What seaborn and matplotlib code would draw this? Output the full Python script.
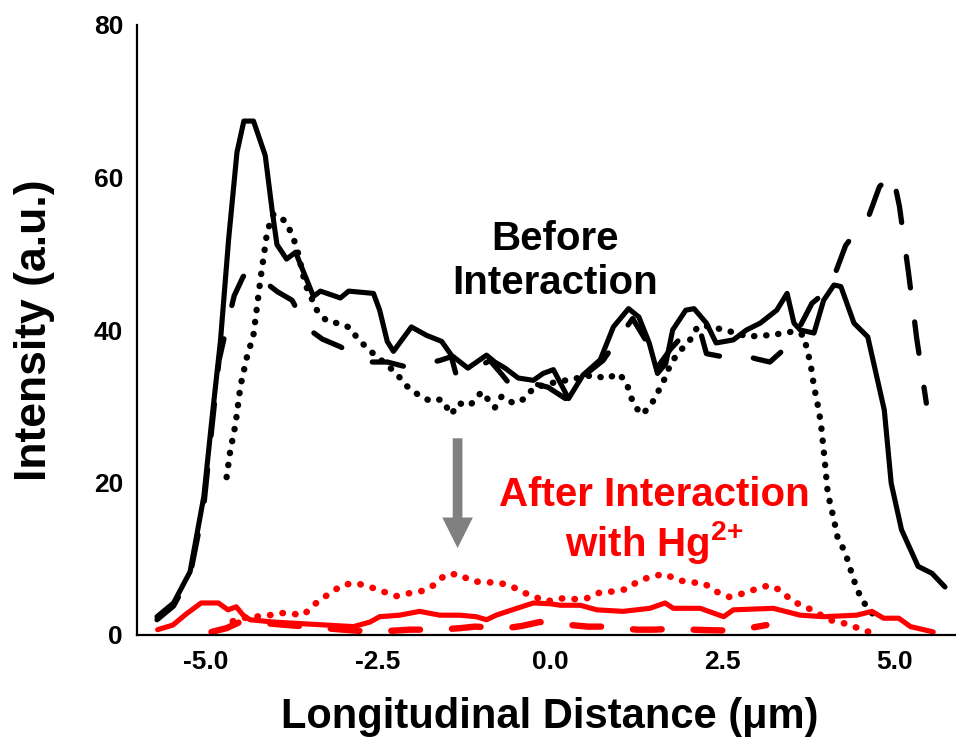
import numpy as np
import pandas as pd
import matplotlib
matplotlib.use("Agg")
import matplotlib.pyplot as plt
import seaborn as sns
from matplotlib import font_manager as fm

# ---------------- data ----------------
before_solid_x = [-5.70, -5.46, -5.22, -5.02, -4.90, -4.78, -4.66, -4.54, -4.44, -4.30, -4.13, -4.03,
                  -3.96, -3.82, -3.69, -3.43, -3.33, -3.04, -2.92, -2.56, -2.47, -2.36, -2.27, -2.01,
                  -1.79, -1.57, -1.43, -1.19, -0.92, -0.80, -0.65, -0.46, -0.24, -0.10, 0.05, 0.27,
                  0.48, 0.73, 0.92, 1.14, 1.29, 1.44, 1.56, 1.68, 1.78, 1.97, 2.09, 2.27, 2.41, 2.66,
                  2.85, 3.05, 3.29, 3.44, 3.54, 3.63, 3.83, 3.97, 4.12, 4.22, 4.41, 4.61, 4.85, 4.95,
                  5.10, 5.34, 5.54, 5.73]
before_solid_y = [2.4, 4.2, 8.3, 18.2, 28.6, 38.5, 52.0, 63.3, 67.4, 67.4, 62.9, 55.7,
                  51.2, 49.3, 50.2, 44.4, 45.1, 44.2, 45.1, 44.8, 42.6, 38.5, 37.2, 40.4,
                  39.3, 38.5, 36.7, 35.0, 36.7, 35.8, 35.0, 33.7, 33.4, 34.3, 34.8, 31.0,
                  34.1, 36.1, 40.4, 42.8, 41.7, 38.3, 34.3, 35.6, 40.0, 42.6, 42.8, 40.9, 38.3, 38.7,
                  40.0, 40.9, 42.6, 44.8, 40.9, 40.0, 39.6, 43.9, 45.9, 45.7, 40.9, 39.1, 29.5, 19.9,
                  13.8, 9.0, 8.1, 6.3]

before_dashed_x = [-5.70, -5.46, -5.22, -5.02, -4.90, -4.80, -4.70, -4.58, -4.45, -4.35, -4.18, -3.95,
                   -3.74, -3.53, -3.30, -3.04, -2.65, -2.36, -2.10, -1.88, -1.60, -1.43, -1.36, -1.15,
                   -0.87, -0.70, -0.54, -0.25, -0.03, 0.26, 0.45, 0.77, 1.00, 1.20, 1.40, 1.55, 1.75,
                   2.00, 2.17, 2.27, 2.50, 2.80, 3.00, 3.19, 3.40, 3.60, 3.80, 4.00, 4.12, 4.29, 4.45,
                   4.61, 4.78, 4.97, 5.07, 5.20, 5.32, 5.46]
before_dashed_y = [2.0, 3.8, 7.8, 17.0, 27.5, 36.0, 40.0, 44.5, 47.0, 47.8, 46.6, 45.0,
                   43.9, 40.3, 38.8, 37.8, 35.8, 35.8, 35.2, 35.4, 36.0, 36.5, 34.1, 34.6,
                   36.0, 34.2, 32.4, 33.0, 32.5, 30.8, 33.7, 36.0, 39.0, 41.5, 38.5, 35.0, 37.5,
                   40.0, 40.2, 36.9, 36.5, 36.7, 36.2, 35.8, 37.5, 40.0, 43.5, 45.0, 47.0, 51.1, 53.0,
                   54.6, 58.8, 60.5, 56.2, 47.6, 38.9, 30.4]

before_dotted_x = [-4.69, -4.64, -4.56, -4.49, -4.40, -4.30, -4.25, -4.20, -4.15, -4.10, -4.01, -3.84,
                   -3.74, -3.67, -3.55, -3.38, -3.24, -3.04, -2.90, -2.80, -2.65, -2.51, -2.36, -2.22,
                   -2.07, -1.91, -1.74, -1.57, -1.43, -1.33, -1.16, -0.99, -0.80, -0.70, -0.53, -0.36,
                   -0.24, 0.00, 0.29, 0.63, 0.82, 0.99, 1.11, 1.16, 1.24, 1.34, 1.48, 1.58, 1.68, 1.75,
                   1.88, 2.02, 2.14, 2.30, 2.53, 2.70, 2.88, 3.05, 3.24, 3.36, 3.54, 3.68, 3.73, 3.78,
                   3.83, 3.88, 3.93, 3.98, 4.03, 4.12, 4.17, 4.25, 4.32, 4.39, 4.46, 4.54, 4.68]
before_dotted_y = [20.7, 24.0, 27.7, 32.6, 36.3, 39.4, 43.0, 46.6, 49.8, 53.0, 55.2, 54.3,
                   52.5, 50.7, 46.0, 42.6, 41.2, 40.8, 40.3, 39.0, 37.6, 36.5, 35.4, 34.2,
                   32.6, 31.5, 30.7, 30.9, 28.9, 30.4, 30.1, 31.9, 29.8, 31.3, 30.4, 31.0,
                   32.4, 33.0, 33.5, 34.1, 33.6, 34.3, 33.2, 31.5, 29.9, 28.9, 30.4, 32.1, 33.9, 35.6,
                   37.2, 38.5, 40.4, 40.5, 40.0, 39.6, 39.1, 39.3, 39.3, 39.6, 39.8, 39.3, 37.4, 35.6,
                   32.6, 30.4, 27.8, 23.4, 18.6, 15.1, 12.9, 11.4, 9.8, 7.7, 5.9, 4.4, 2.8]

after_solid_x = [-5.69, -5.47, -5.27, -5.06, -4.81, -4.67, -4.55, -4.45, -4.35, -4.01, -3.63, -3.24,
                 -2.85, -2.61, -2.47, -2.18, -1.89, -1.60, -1.31, -1.07, -0.92, -0.78, -0.48, -0.24,
                 0.00, 0.15, 0.44, 0.68, 1.06, 1.45, 1.67, 1.79, 2.18, 2.52, 2.66, 3.24, 3.63, 3.97,
                 4.45, 4.67, 4.84, 5.06, 5.23, 5.56]
after_solid_y = [0.7, 1.3, 2.8, 4.2, 4.2, 3.3, 3.7, 2.6, 2.0, 1.7, 1.5, 1.3,
                 1.1, 1.7, 2.4, 2.6, 3.1, 2.6, 2.6, 2.4, 2.0, 2.6, 3.5, 4.2,
                 4.1, 3.9, 3.9, 3.3, 3.1, 3.5, 4.2, 3.5, 3.5, 2.4, 3.3, 3.5, 2.6, 2.4,
                 2.6, 3.1, 2.2, 2.2, 1.1, 0.4]

after_dashed_x = [-4.91, -4.69, -4.50, -4.20, -3.80, -3.40, -3.00, -2.56, -2.30, -2.03, -1.60, -1.30,
                  -1.09, -0.63, -0.40, -0.15, 0.31, 0.55, 0.80, 1.26, 1.50, 1.77, 2.23, 2.50, 2.73, 3.14]
after_dashed_y = [0.4, 0.9, 1.7, 1.6, 1.3, 1.0, 0.7, 0.4, 0.55, 0.7, 0.7, 0.9,
                  1.1, 0.9, 1.2, 1.7, 1.3, 1.1, 1.1, 0.7, 0.7, 0.8, 0.65, 0.6, 0.65, 1.3]

after_dotted_x = [-4.60, -4.47, -4.31, -4.11, -3.92, -3.75, -3.58, -3.39, -3.19, -3.00, -2.81, -2.61,
                  -2.42, -2.23, -2.03, -1.84, -1.67, -1.52, -1.33, -1.14, -0.97, -0.77, -0.58, -0.39,
                  -0.05, 0.15, 0.34, 0.53, 0.73, 0.91, 1.10, 1.29, 1.48, 1.67, 1.85, 2.05, 2.23, 2.41,
                  2.60, 2.78, 2.98, 3.17, 3.34, 3.52, 3.71, 3.89, 4.09, 4.28, 4.47, 4.69]
after_dotted_y = [1.8, 2.2, 2.4, 2.5, 2.9, 2.8, 2.6, 4.2, 5.5, 6.6, 6.8, 6.3,
                  5.7, 5.1, 5.5, 5.8, 6.6, 7.9, 8.0, 7.1, 6.9, 6.9, 6.5, 5.6,
                  4.4, 4.8, 4.7, 4.8, 5.6, 5.7, 6.0, 7.1, 7.7, 8.0, 7.2, 6.9, 6.8, 5.7,
                  5.0, 5.4, 6.0, 6.5, 5.9, 4.4, 3.7, 2.8, 1.9, 1.5, 0.9, 0.2]

x_ticks = [-5.0, -2.5, 0.0, 2.5, 5.0]
x_tick_labels = ["-5.0", "-2.5", "0.0", "2.5", "5.0"]
y_ticks = [0, 20, 40, 60, 80]
y_tick_labels = ["0", "20", "40", "60", "80"]

x_label = "Longitudinal Distance (\u03bcm)"
y_label = "Intensity (a.u.)"
before_text = "Before\nInteraction"
after_text = "After Interaction\nwith Hg$^{2{+}}$"


# ---------------- fonts ----------------
def has_font(name):
    try:
        fm.findfont(fm.FontProperties(family=name), fallback_to_default=False)
        return True
    except Exception:
        return False


MAIN = "Liberation Sans" if has_font("Liberation Sans") else "DejaVu Sans"

sns.set_theme(style="white")
plt.rcParams["font.family"] = [MAIN, "DejaVu Sans"]
plt.rcParams["font.weight"] = "bold"
plt.rcParams["mathtext.default"] = "regular"
for k in ["text.color", "axes.labelcolor", "xtick.color", "ytick.color", "axes.edgecolor"]:
    plt.rcParams[k] = "black"

fig = plt.figure(figsize=(9.56, 7.44), dpi=100)
ax = fig.add_axes([137 / 956, 109 / 744, 819 / 956, 610 / 744])


def draw(x, y, color, ls, lw):
    df = pd.DataFrame({"x": x, "y": y})
    sns.lineplot(data=df, x="x", y="y", ax=ax, color=color, lw=lw, estimator=None,
                 sort=False, linestyle=ls, dash_capstyle="round",
                 solid_capstyle="round", solid_joinstyle="round")


draw(before_dotted_x, before_dotted_y, "black", (0, (0.05, 1.85)), 4.6)
draw(before_dashed_x, before_dashed_y, "black", (0, (6.0, 6.5)), 3.8)
draw(before_solid_x, before_solid_y, "black", "-", 3.7)
draw(after_dotted_x, after_dotted_y, "#ff0000", (0, (0.05, 1.85)), 4.8)
draw(after_dashed_x, after_dashed_y, "#ff0000", (0, (4.5, 5.0)), 4.6)
draw(after_solid_x, after_solid_y, "#ff0000", "-", 3.7)

ax.set_xlim(-5.99, 5.89)
ax.set_ylim(0, 80)

ax.set_xticks(x_ticks)
ax.set_xticklabels(x_tick_labels, fontsize=19, fontweight="bold")
ax.set_yticks(y_ticks)
ax.set_yticklabels(y_tick_labels, fontsize=19, fontweight="bold")
ax.tick_params(axis="x", direction="in", length=7, width=1.5, pad=11, colors="black")
ax.tick_params(axis="y", direction="in", length=9, width=1.5, pad=10, colors="black")

sns.despine(ax=ax)
for s in ["left", "bottom"]:
    ax.spines[s].set_linewidth(1.6)
    ax.spines[s].set_color("black")

ax.set_xlabel(x_label, fontsize=30, fontweight="bold", color="black")
ax.xaxis.set_label_coords((550 - 137) / 819, (635 - 697) / 610)
ax.set_ylabel(y_label, fontsize=32, fontweight="bold", color="black")
ax.yaxis.label.set_va("center")
ax.yaxis.set_label_coords((35 - 137) / 819, (635 - 330) / 610)

ax.text(0.07, 49.0, before_text, ha="center", va="center", fontsize=29,
        fontweight="bold", color="black", linespacing=1.2)
ax.text(1.52, 14.95, after_text, ha="center", va="center", fontsize=29,
        fontweight="bold", color="#ff0000", linespacing=1.15)

ax.annotate("", xy=(-1.34, 11.4), xytext=(-1.34, 25.8),
            arrowprops=dict(facecolor="#808080", edgecolor="none", width=7,
                            headwidth=22, headlength=22, shrink=0))

ax.grid(False)
fig.savefig("out.png", dpi=100)
